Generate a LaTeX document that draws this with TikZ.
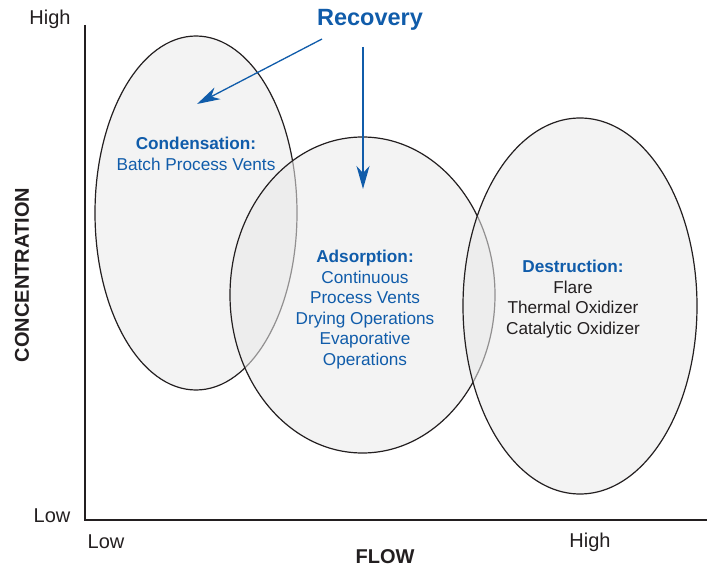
\documentclass[tikz,border=0pt]{standalone}
\usepackage{fontspec}
\setmainfont{Liberation Sans}
\usetikzlibrary{arrows.meta}
\definecolor{recblue}{RGB}{16,92,170}
\definecolor{inkgray}{RGB}{35,31,32}
\definecolor{zonegray}{RGB}{233,233,233}
\tikzset{
  zone/.style={draw=inkgray, line width=1.2pt, fill=zonegray, fill opacity=0.56},
  axisline/.style={draw=inkgray, line width=2.4pt},
  blk/.style={align=center, font=\fontsize{17.2}{20.6}\selectfont},
  ticklbl/.style={text=inkgray, font=\fontsize{20}{24}\selectfont},
  axislbl/.style={text=inkgray, font=\fontsize{20}{24}\selectfont\bfseries},
  recarrow/.style={draw=recblue, line width=1.3pt, -{Stealth[length=23pt,width=13pt,inset=7pt]}}
}
\begin{document}
\begin{tikzpicture}[x=1pt,y=-1pt]
  \useasboundingbox (0,0) rectangle (707,569);
  \draw[axisline] (85,25) -- (85,520) -- (707,520);
  \draw[zone] (196,213) ellipse [x radius=101, y radius=177];
  \draw[zone] (362.5,295) ellipse [x radius=132.5, y radius=158];
  \draw[zone] (580,306) ellipse [x radius=117, y radius=188];
  \node[blk, text=recblue] (cond) at (196,154) {\textbf{Condensation:}\\Batch Process Vents};
  \node[blk, text=recblue] (ads) at (365,309.5) {\textbf{Adsorption:}\\Continuous\\Process Vents\\Drying Operations\\Evaporative\\Operations};
  \node[blk, text=inkgray] (dest) at (573,299) {\textcolor{recblue}{\textbf{Destruction:}}\\Flare\\Thermal Oxidizer\\Catalytic Oxidizer};
  \node[text=recblue, font=\fontsize{23.5}{28}\selectfont\bfseries] (rec) at (370,20) {Recovery};
  \coordinate (recl) at (322,39);
  \coordinate (recd) at (363,47);
  \coordinate (condtip) at (197,104);
  \coordinate (adstip) at (363,189);
  \draw[recarrow] (recl) -- (condtip);
  \draw[recarrow] (recd) -- (adstip);
  \node[ticklbl] (yhigh) at (50,19) {High};
  \node[ticklbl] (ylow) at (52,516) {Low};
  \node[ticklbl] (xlow) at (106,542) {Low};
  \node[ticklbl] (xhigh) at (590,542) {High};
  \node[axislbl] (flow) at (385,557) {FLOW};
  \node[axislbl, rotate=90] (conc) at (22,275) {CONCENTRATION};
\end{tikzpicture}
\end{document}
